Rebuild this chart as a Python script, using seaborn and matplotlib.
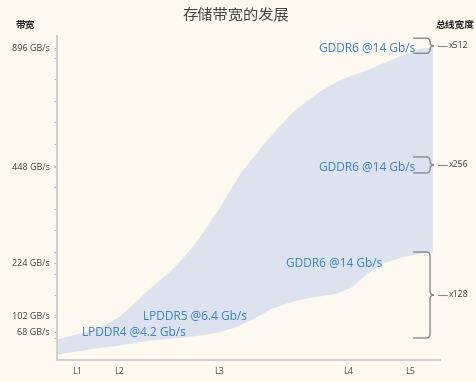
import numpy as np
import pandas as pd
import matplotlib
matplotlib.use('Agg')
import matplotlib.pyplot as plt
from matplotlib.path import Path
from matplotlib.patches import PathPatch
import seaborn as sns

# generations along the x axis
gen_labels = ['L1', 'L2', 'L3', 'L4', 'L5']
gen_pos = [5.2, 16.2, 42.3, 76.0, 92.2]

# bandwidth band (schematic units on the y axis)
band_x = [0, 7, 11, 16, 20, 24, 29, 33, 37, 42, 46, 48, 52, 56, 61, 65, 69, 73, 77, 81, 85, 90, 95, 98]
band_upper = [0.97, 1.30, 1.52, 2.0, 2.62, 3.3, 4.05, 4.77, 5.66, 6.95, 8.15, 8.7, 9.6, 10.45,
              11.4, 12.0, 12.5, 12.9, 13.2, 13.45, 13.75, 14.12, 14.44, 14.5]
band_lower = [0.28, 0.47, 0.58, 0.69, 0.8, 0.92, 1.0, 1.06, 1.15, 1.3, 1.5, 1.65, 2.0, 2.4,
              2.7, 2.87, 2.98, 3.1, 3.4, 4.03, 4.49, 4.77, 4.95, 5.0]

# bandwidth tick labels
bw_labels = ['896 GB/s', '448 GB/s', '224 GB/s', '102 GB/s', '68 GB/s']
bw_pos = [14.45, 8.95, 4.5, 2.08, 1.3]

# memory labels
mem_labels = ['GDDR6 @14 Gb/s', 'GDDR6 @14 Gb/s', 'GDDR6 @14 Gb/s', 'LPDDR5 @6.4 Gb/s', 'LPDDR4 @4.2 Gb/s']
mem_x = [93.5, 93.5, 84.9, 22.5, 6.5]
mem_ha = ['right', 'right', 'right', 'left', 'left']

# bus width groups
bus_labels = ['x512', 'x256', 'x128']
bus_top = [14.9, 9.4, 5.0]
bus_bottom = [14.2, 8.66, 1.02]

bg = '#fdf9ee'
blue = '#2f80d2'
grey = '#8a8a8a'

sns.set_style('white')
plt.rcParams['font.family'] = ['Open Sans', 'Noto Sans CJK SC', 'DejaVu Sans']

df = pd.DataFrame({'x': band_x, 'upper': band_upper, 'lower': band_lower})

fig = plt.figure(figsize=(4.77, 3.82), dpi=100, facecolor=bg)
ax = fig.add_axes([57 / 477, 22 / 382, 383 / 477, 324 / 382])
ax.set_facecolor(bg)

ax.fill_between(df['x'], df['lower'], df['upper'], color='#dde3ee', lw=0)

ax.set_xlim(0, 100)
ax.set_ylim(0, 15)
sns.despine(ax=ax)
for s in ['left', 'bottom']:
    ax.spines[s].set_color('#cfcfcf')
    ax.spines[s].set_linewidth(1.4)

ax.set_xticks(gen_pos)
ax.set_xticklabels(gen_labels, fontsize=6.5, color='#555555')
ax.tick_params(axis='x', length=0, pad=5)

ax.set_yticks(bw_pos)
ax.set_yticklabels(bw_labels, fontsize=6.5, color='#444444')
ax.set_yticks(np.arange(1, 15), minor=True)
ax.tick_params(axis='y', which='both', length=2, width=0.8, color='#bbbbbb', pad=3, left=True)

for lab, x, y, ha in zip(mem_labels, mem_x, bw_pos, mem_ha):
    ax.text(x, y, lab, color=blue, fontsize=8.6, ha=ha, va='center')

# braces for bus width
rx, ry = 1.0, 0.18
xl, xc = 93.0, 97.4
for lab, yt, yb in zip(bus_labels, bus_top, bus_bottom):
    ym = (yt + yb) / 2
    verts = [(xl, yt), (xc - rx, yt), (xc, yt), (xc, yt - ry), (xc, ym + ry),
             (xc, ym), (xc + rx, ym), (xc, ym), (xc, ym - ry), (xc, yb + ry),
             (xc, yb), (xc - rx, yb), (xl, yb)]
    codes = [Path.MOVETO, Path.LINETO, Path.CURVE3, Path.CURVE3, Path.LINETO,
             Path.CURVE3, Path.CURVE3, Path.CURVE3, Path.CURVE3, Path.LINETO,
             Path.CURVE3, Path.CURVE3, Path.LINETO]
    ax.add_patch(PathPatch(Path(verts, codes), fill=False, ec=grey, lw=1.0, clip_on=False))
    ax.plot([99.5, 101.8], [ym, ym], color=grey, lw=0.8, clip_on=False)
    ax.text(102.4, ym, lab, fontsize=6.3, color='#444444', va='center', ha='left')

fig.text(236 / 477, 1 - 15 / 382, '存储带宽的发展', fontsize=11, color='#444444',
         ha='center', va='center', family=['Noto Sans CJK SC', 'DejaVu Sans'])
fig.text(25 / 477, 1 - 25 / 382, '带宽', fontsize=7, fontweight='bold', color='#222222',
         ha='center', va='center', family=['Noto Sans CJK SC', 'DejaVu Sans'])
fig.text(455 / 477, 1 - 25 / 382, '总线宽度', fontsize=7, fontweight='bold', color='#222222',
         ha='center', va='center', family=['Noto Sans CJK SC', 'DejaVu Sans'])

fig.savefig('out.png', dpi=100, facecolor=bg)
